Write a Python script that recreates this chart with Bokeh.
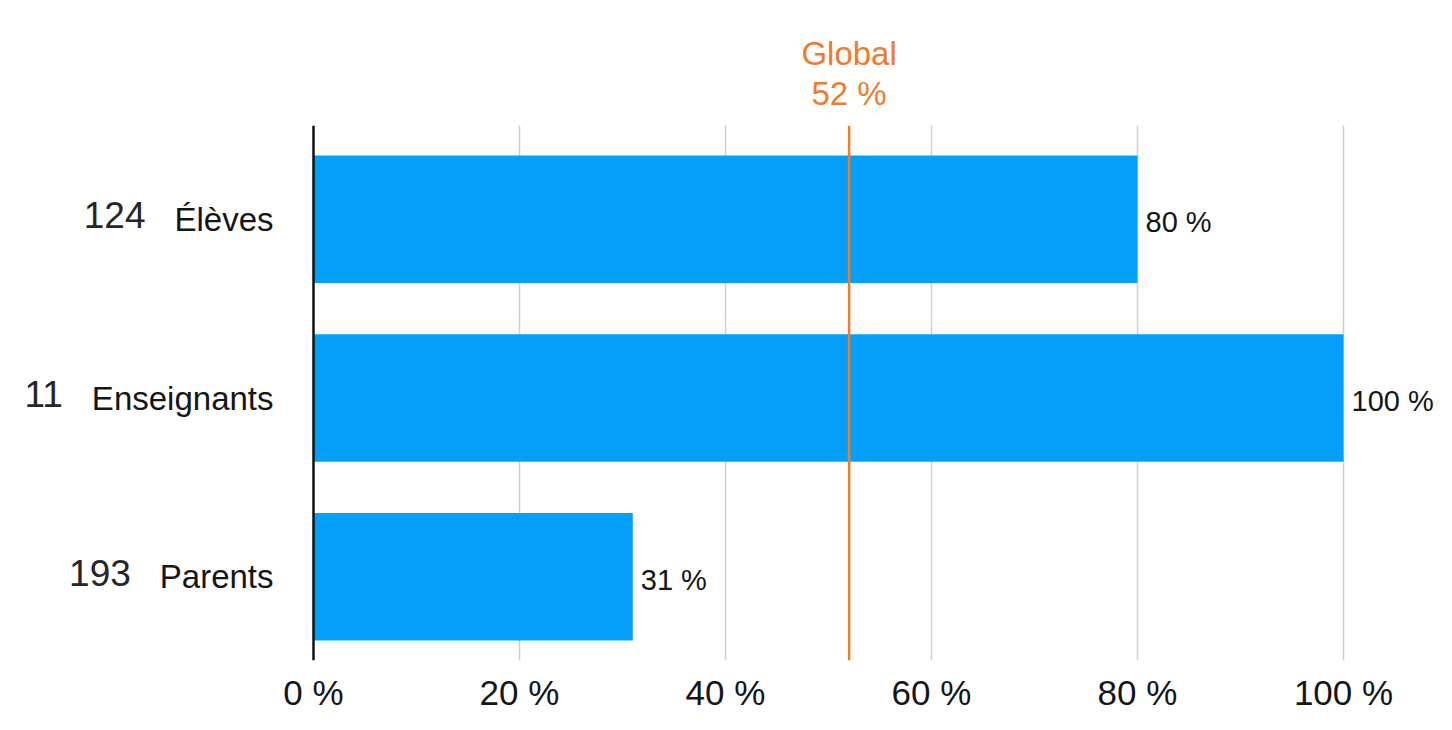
from bokeh.plotting import figure
from bokeh.models import Range1d, FixedTicker, Span, ColumnDataSource, LinearAxis
from bokeh.core.properties import value
from bokeh.embed import file_html
from bokeh.resources import INLINE

# ---- data ----
categories = ["Élèves", "Enseignants", "Parents"]
respondents = [124, 11, 193]
percent = [80, 100, 31]
global_percent = 52
global_title = "Global"
x_ticks = [0, 20, 40, 60, 80, 100]
x_tick_labels = ["0 %", "20 %", "40 %", "60 %", "80 %", "100 %"]

# ---- styles ----
FONT = "Liberation Sans"
BLUE = "#049ff9"
ORANGE = "#ef7b2d"
TXT = "#151515"
CAT_SIZE = 33
CAT_STANDOFF = 40
COUNT_GAP = 29

# approximate Helvetica/Liberation Sans advance widths (per 1000 em)
_w = {"É": 667, "E": 667, "P": 667, "l": 222, "è": 556, "e": 556, "v": 500,
      "s": 500, "n": 556, "i": 222, "g": 556, "a": 556, "t": 278, "r": 333}


def text_width(s, size):
    return sum(_w.get(c, 556) for c in s) * size / 1000.0


ypos = [len(categories) - 1 - i for i in range(len(categories))]

W, H = 1436, 714
LEFT = 313
PX_PER_UNIT = 10.30
x_start = -LEFT / PX_PER_UNIT
x_end = (W - LEFT) / PX_PER_UNIT

p = figure(width=W, height=H, output_backend="svg", toolbar_location=None,
           x_range=Range1d(x_start, x_end), y_range=Range1d(-0.468, 2.524),
           y_axis_location=None,
           min_border_left=0, min_border_top=125, min_border_bottom=50,
           min_border_right=0)
p.outline_line_color = None
p.background_fill_color = "white"
p.border_fill_color = "white"

# grid
p.xgrid.ticker = FixedTicker(ticks=x_ticks[1:])
p.xgrid.grid_line_color = "#cfcfcf"
p.xgrid.grid_line_width = 1.5
p.ygrid.grid_line_color = None

src = ColumnDataSource(dict(
    y=ypos, v=percent, lab=[f"{v} %" for v in percent],
    cat=categories, n=[str(n) for n in respondents],
    noff=[-(CAT_STANDOFF + text_width(c, CAT_SIZE) + COUNT_GAP) for c in categories],
))
p.hbar(y="y", left=0, right="v", height=0.713, source=src,
       fill_color=BLUE, line_color=None)
p.text(x="v", y="y", text="lab", source=src, x_offset=8, y_offset=3,
       text_font=value(FONT), text_font_size="29px", text_color=TXT,
       text_baseline="middle", text_align="left")

# category labels and respondent counts
p.text(x=0, y="y", text="cat", source=src, x_offset=-CAT_STANDOFF, y_offset=0,
       text_font=value(FONT), text_font_size=f"{CAT_SIZE}px", text_color=TXT,
       text_baseline="middle", text_align="right")
p.text(x=0, y="y", text="n", source=src, x_offset="noff", y_offset=-4,
       text_font=value(FONT), text_font_size="37px", text_color="#262626",
       text_baseline="middle", text_align="right")

# y axis line
p.add_layout(Span(location=0, dimension="height", line_color="#111111", line_width=2.5))
# global line
p.add_layout(Span(location=global_percent, dimension="height",
                  line_color=ORANGE, line_width=2.5))

# bottom x axis
xa = p.below[0]
xa.ticker = FixedTicker(ticks=x_ticks)
xa.major_label_overrides = {t: l for t, l in zip(x_ticks, x_tick_labels)}
xa.axis_line_color = None
xa.major_tick_line_color = None
xa.minor_tick_line_color = None
xa.major_tick_out = 0
xa.major_tick_in = 0
xa.major_label_text_font = FONT
xa.major_label_text_font_size = "35px"
xa.major_label_text_color = TXT
xa.major_label_standoff = 12

# global annotation above the frame (two stacked axes)
for txt, standoff in [(f"{global_percent} %", 14), (global_title, 0)]:
    ax = LinearAxis(ticker=FixedTicker(ticks=[global_percent]),
                    major_label_overrides={global_percent: txt},
                    axis_line_color=None, major_tick_line_color=None,
                    minor_tick_line_color=None, major_tick_out=0, major_tick_in=0,
                    major_label_text_font=FONT, major_label_text_font_size="33px",
                    major_label_text_color=ORANGE, major_label_standoff=standoff)
    p.add_layout(ax, "above")

open("out.html", "w").write(file_html(p, INLINE))
